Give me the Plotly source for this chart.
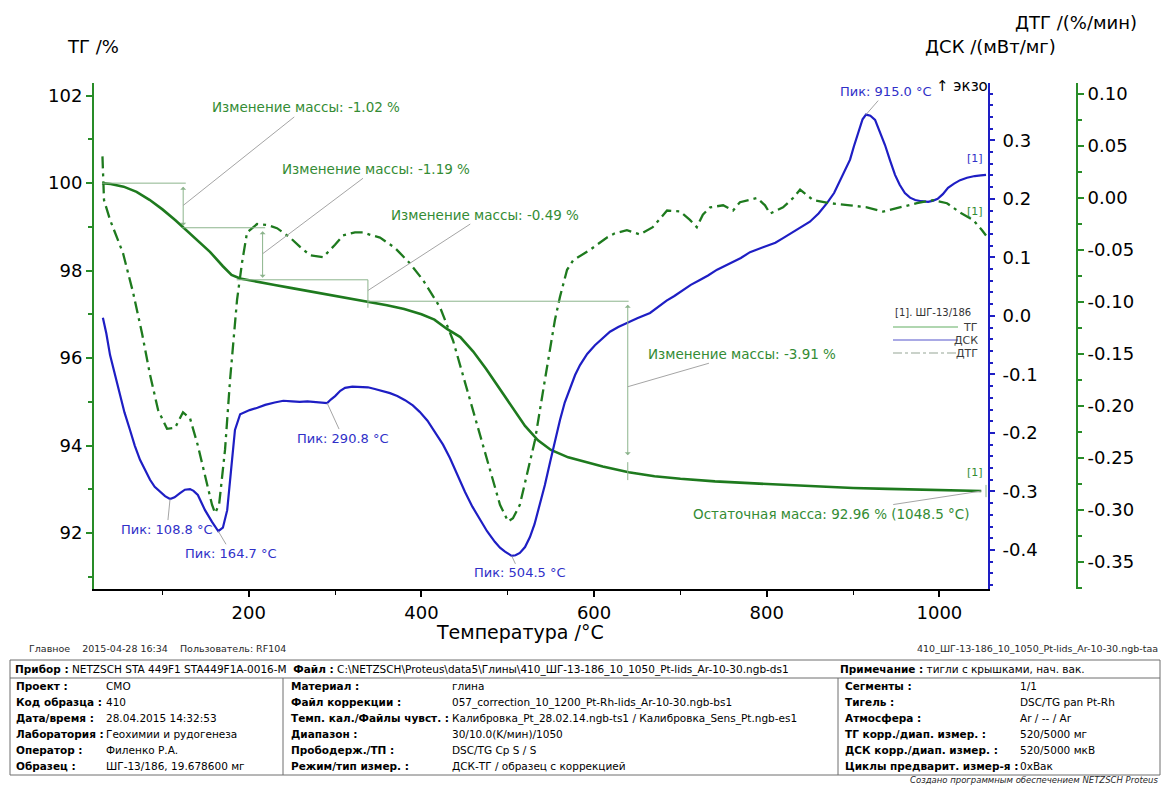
import plotly.graph_objects as go

# ---------------- measured curves ----------------
# TG: mass, %
tg_t = [30, 40, 55, 70, 85, 100, 115, 125, 140, 155, 170, 180, 190, 210, 230, 250,
        270, 290, 310, 337, 360, 380, 400, 415, 430, 445, 460, 475, 490, 505, 520, 535,
        550, 570, 590, 610, 640, 670, 700, 740, 780, 820, 860, 900, 940, 980, 1020, 1048.5]
tg_v = [100.00, 99.98, 99.92, 99.80, 99.62, 99.40, 99.15, 98.97, 98.72, 98.43, 98.10, 97.90,
        97.82, 97.74, 97.67, 97.60, 97.53, 97.46, 97.40, 97.30, 97.21, 97.12, 97.00, 96.88,
        96.66, 96.48, 96.15, 95.75, 95.32, 94.87, 94.45, 94.12, 93.90, 93.73, 93.62, 93.52,
        93.39, 93.30, 93.24, 93.18, 93.14, 93.10, 93.06, 93.03, 93.01, 92.99, 92.97, 92.96]

# DSC: mW/mg
dsc_t = [31, 35, 39.3, 45, 50.9, 56, 62.4, 68, 74, 80,
         85.6, 91, 97.2, 103, 108.8, 114, 120.3, 126, 131.9, 136,
         141, 149.3, 157.4, 164.7, 170, 175, 179.5, 184, 190, 201,
         210, 219, 230, 240, 250, 259, 268, 277, 285, 290.8,
         295, 300, 306, 311.5, 320, 329, 338, 346, 355, 363.6,
         372, 381, 390, 398, 407, 415.7, 425, 433, 441, 450.5,
         459, 467.8, 476, 485, 491, 496.8, 504.5, 509, 514, 520,
         525.7, 531, 537.3, 543, 549, 555, 560.5, 566, 572, 578,
         583.7, 592, 601, 610, 618.4, 628, 638, 650, 664.8, 675,
         684, 693, 703, 712, 722, 732, 742.5, 752, 760, 770,
         780.6, 790, 800, 810, 818.9, 828, 838, 850, 860, 870,
         878, 885, 891, 896.5, 901, 906, 911, 915, 920, 925.5,
         931, 937, 943, 948.6, 954, 960, 966, 972, 979, 987,
         993, 998, 1004, 1010, 1017, 1024, 1032, 1041, 1048, 1054]
dsc_v = [-0.003, -0.030, -0.067, -0.100, -0.135, -0.165, -0.195, -0.222, -0.246, -0.265,
         -0.280, -0.292, -0.301, -0.308, -0.313, -0.310, -0.303, -0.297, -0.296, -0.299,
         -0.306, -0.332, -0.352, -0.368, -0.362, -0.332, -0.263, -0.195, -0.168, -0.161,
         -0.157, -0.152, -0.148, -0.145, -0.146, -0.147, -0.146, -0.147, -0.148, -0.149,
         -0.143, -0.137, -0.128, -0.123, -0.121, -0.121, -0.122, -0.125, -0.128, -0.132,
         -0.137, -0.144, -0.153, -0.164, -0.179, -0.198, -0.220, -0.243, -0.270, -0.301,
         -0.326, -0.349, -0.368, -0.386, -0.396, -0.403, -0.410, -0.409, -0.405, -0.395,
         -0.378, -0.356, -0.323, -0.289, -0.250, -0.212, -0.178, -0.148, -0.123, -0.101,
         -0.084, -0.065, -0.050, -0.038, -0.027, -0.019, -0.012, -0.004, 0.005, 0.017,
         0.026, 0.034, 0.044, 0.053, 0.061, 0.069, 0.079, 0.086, 0.091, 0.099,
         0.109, 0.114, 0.119, 0.125, 0.133, 0.141, 0.150, 0.161, 0.175, 0.193,
         0.210, 0.232, 0.250, 0.267, 0.290, 0.315, 0.336, 0.344, 0.342, 0.335,
         0.315, 0.292, 0.265, 0.241, 0.224, 0.210, 0.202, 0.198, 0.196, 0.195,
         0.197, 0.200, 0.208, 0.219, 0.226, 0.232, 0.236, 0.239, 0.240, 0.241]

# DTG: %/min
dtg_t = [30.5, 31.0, 32.3, 39.3, 47.4, 54.3, 66.0, 76.3, 85.6, 95.0,
         105.3, 114.6, 123.8, 132.0, 141.0, 150.5, 157.4, 161.0, 165.6, 172.5,
         178.3, 186.4, 192.2, 198.0, 209.6, 222.0, 232.7, 247.8, 259.4, 271.0,
         286.0, 299.9, 309.2, 323.0, 332.3, 342.8, 352.0, 369.4, 386.8, 401.9,
         421.5, 436.6, 456.3, 479.4, 491.0, 500.3, 506.0, 514.0, 523.4, 531.5,
         543.0, 554.7, 560.5, 568.7, 575.6, 595.0, 615.0, 624.0, 638.0, 653.0,
         668.0, 684.5, 699.5, 711.0, 719.0, 726.0, 734.4, 749.5, 761.0, 769.0,
         788.8, 798.0, 803.8, 818.9, 830.5, 838.6, 853.7, 873.4, 896.5, 916.0,
         934.8, 954.4, 974.0, 992.6, 1008.8, 1024.0, 1039.0, 1049.4, 1054.0]
dtg_v = [0.040, 0.020, -0.002, -0.021, -0.038, -0.053, -0.091, -0.130, -0.170, -0.204,
         -0.222, -0.221, -0.206, -0.212, -0.238, -0.271, -0.295, -0.303, -0.295, -0.242,
         -0.175, -0.098, -0.062, -0.033, -0.025, -0.026, -0.029, -0.038, -0.047, -0.055,
         -0.057, -0.045, -0.036, -0.033, -0.033, -0.036, -0.038, -0.048, -0.063, -0.079,
         -0.105, -0.137, -0.194, -0.262, -0.295, -0.311, -0.308, -0.295, -0.262, -0.233,
         -0.175, -0.117, -0.095, -0.069, -0.060, -0.050, -0.038, -0.034, -0.031, -0.035,
         -0.028, -0.012, -0.013, -0.021, -0.028, -0.016, -0.009, -0.007, -0.012, -0.004,
         0.000, -0.007, -0.015, -0.009, 0.000, 0.008, -0.002, -0.005, -0.007, -0.009,
         -0.013, -0.009, -0.005, -0.002, -0.005, -0.014, -0.021, -0.031, -0.036]

# DSC peak evaluation
peak_t = [108.8, 164.7, 290.8, 504.5, 915.0]
peak_v = [-0.313, -0.368, -0.149, -0.410, 0.344]

# TG step evaluation: start mass, step temperatures and mass changes
mass_start = 100.0
step_t = [124, 216, 338, 639]
step_dm = [1.02, 1.19, 0.49, 3.91]
residual_t = 1048.5
residual_mass = 92.96

# axis ticks
x_ticks = [200, 400, 600, 800, 1000]
tg_ticks = [92, 94, 96, 98, 100, 102]
dsc_ticks = [-0.4, -0.3, -0.2, -0.1, 0.0, 0.1, 0.2, 0.3]
dtg_ticks = [-0.35, -0.30, -0.25, -0.20, -0.15, -0.10, -0.05, 0.00, 0.05, 0.10]

# measurement sheet
header_left = r"<b>Прибор :</b> NETZSCH STA 449F1 STA449F1A-0016-M  <b>Файл :</b> C:\NETZSCH\Proteus\data5\Глины\410_ШГ-13-186_10_1050_Pt-lids_Ar-10-30.ngb-ds1"
header_right = "<b>Примечание :</b> тигли с крышками, нач. вак."
col1 = [("Проект :", "СМО"), ("Код образца :", "410"), ("Дата/время :", "28.04.2015 14:32:53"),
        ("Лаборатория :", "Геохимии и рудогенеза"), ("Оператор :", "Филенко Р.А."),
        ("Образец :", "ШГ-13/186, 19.678600 мг")]
col2 = [("Материал :", "глина"), ("Файл коррекции :", "057_correction_10_1200_Pt-Rh-lids_Ar-10-30.ngb-bs1"),
        ("Темп. кал./Файлы чувст. :", "Калибровка_Pt_28.02.14.ngb-ts1 / Калибровка_Sens_Pt.ngb-es1"),
        ("Диапазон :", "30/10.0(K/мин)/1050"), ("Прободерж./ТП :", "DSC/TG Cp S / S"),
        ("Режим/тип измер. :", "ДСК-ТГ / образец с коррекцией")]
col3 = [("Сегменты :", "1/1"), ("Тигель :", "DSC/TG pan Pt-Rh"), ("Атмосфера :", "Ar / -- / Ar"),
        ("ТГ корр./диап. измер. :", "520/5000 мг"), ("ДСК корр./диап. измер. :", "520/5000 мкВ"),
        ("Циклы предварит. измер-я :", "0xВак")]

# ---------------- styling ----------------
FONT = "DejaVu Sans"
GREEN = "rgb(30,122,30)"
AXGREEN = "rgb(40,140,40)"
BLUE = "rgb(30,30,196)"
NOTE_GREEN = "rgb(52,140,52)"
NOTE_BLUE = "rgb(48,48,200)"
LEAD = "rgb(165,165,165)"
STEP = "rgb(140,180,140)"
GRID = "rgb(110,110,110)"

W, H = 1165, 785
ML, MR, MT, MB = 94, 65, 83, 196
PW, PH = W - ML - MR, H - MT - MB


def fx(x):
    return (x - ML) / PW


def fy(y):
    return (H - MB - y) / PH


X_END = fx(988)
DTG_POS = fx(1077)

fig = go.Figure()
fig.add_trace(go.Scatter(x=dtg_t, y=dtg_v, yaxis="y3", mode="lines", hoverinfo="skip",
                         line=dict(color=GREEN, width=2.3, dash="12px,5px,3px,5px")))
fig.add_trace(go.Scatter(x=dsc_t, y=dsc_v, yaxis="y2", mode="lines", hoverinfo="skip",
                         line=dict(color=BLUE, width=2.2)))
fig.add_trace(go.Scatter(x=tg_t, y=tg_v, yaxis="y", mode="lines", hoverinfo="skip",
                         line=dict(color=GREEN, width=2.6)))

ann = []
shapes = []


def text_at(x, y, text, size, color="black", xanchor="center", italic=False):
    ann.append(dict(x=fx(x), y=fy(y), xref="paper", yref="paper", text=text, showarrow=False,
                    xanchor=xanchor, yanchor="middle",
                    font=dict(size=size, color=color, family=FONT,
                              style="italic" if italic else "normal")))


# axis titles
text_at(93, 47, "ТГ /%", 18)
text_at(1076, 22, "ДТГ /(%/мин)", 18)
text_at(990, 47, "ДСК /(мВт/мг)", 18)
text_at(962, 86, "↑ экзо", 15)
text_at(520, 632, "Температура /°C", 19)

# DSC peak labels
peak_offsets = [(-3, 30), (13, 22), (16, 35), (8, 17), (20, -23)]
for t, v, (dx, dy) in zip(peak_t, peak_v, peak_offsets):
    ann.append(dict(x=t, y=v, xref="x", yref="y2", text=f"Пик: {t:.1f} °C", showarrow=True,
                    arrowhead=0, arrowwidth=1, arrowcolor=LEAD, ax=dx, ay=dy, standoff=0,
                    font=dict(size=13, color=NOTE_BLUE, family=FONT)))

# TG step evaluation: levels, arrows, labels
levels = [mass_start]
for d in step_dm:
    levels.append(round(levels[-1] - d, 2))

step_lines = [
    (30, 127, levels[0], levels[0]),
    (step_t[0] - 1, 219, levels[1], levels[1]),
    (186, step_t[2], levels[2], levels[2]),
    (step_t[2], step_t[2], levels[2], levels[2] - 0.64),
    (step_t[2], step_t[3] + 1, levels[3], levels[3]),
    (step_t[3], step_t[3], levels[4] + 0.23, levels[4] - 0.18),
    (1054, 1054, residual_mass + 0.14, residual_mass - 0.14),
]
for x0, x1, y0, y1 in step_lines:
    shapes.append(dict(type="line", xref="x", yref="y", x0=x0, x1=x1, y0=y0, y1=y1,
                       line=dict(color=STEP, width=1)))

for i, (top, bot, side, so) in enumerate([(levels[0], levels[1], "end+start", 2),
                                           (levels[1], levels[2], "end+start", 2),
                                           (levels[3], levels[4], "end+start", 17)]):
    t = step_t[[0, 1, 3][i]]
    ann.append(dict(x=t, y=bot, ax=t, ay=top, xref="x", yref="y", axref="x", ayref="y",
                    text="", showarrow=True, arrowhead=1, arrowside=side, arrowsize=1,
                    arrowwidth=1, arrowcolor=STEP, standoff=so, startstandoff=2))

mass_offsets = [(123, -98), (113, -85), (117, -76), (114, -33)]
for i, (t, d, (dx, dy)) in enumerate(zip(step_t, step_dm, mass_offsets)):
    mid = (levels[i] + levels[i + 1]) / 2
    ann.append(dict(x=t, y=mid, xref="x", yref="y", text=f"Изменение массы: -{d:.2f} %",
                    showarrow=True, arrowhead=0, arrowwidth=1, arrowcolor=LEAD, ax=dx, ay=dy,
                    standoff=0, font=dict(size=13.5, color=NOTE_GREEN, family=FONT)))

ann.append(dict(x=residual_t, y=residual_mass, xref="x", yref="y",
                text=f"Остаточная масса: {residual_mass:.2f} % ({residual_t:.1f} °C)",
                showarrow=True, arrowhead=0, arrowwidth=1, arrowcolor=LEAD, ax=-150, ay=23,
                standoff=0, font=dict(size=13.5, color=NOTE_GREEN, family=FONT)))

# curve end markers
text_at(975, 158, "[1]", 11, NOTE_BLUE)
text_at(975, 212, "[1]", 11, NOTE_GREEN)
text_at(975, 472, "[1]", 11, NOTE_GREEN)

# legend block
text_at(893, 312, "[1]. ШГ-13/186", 10, "rgb(50,50,50)", xanchor="left")
for yy, col, dash, name in [(327, "rgb(150,200,150)", "solid", "ТГ"),
                            (340, "rgb(140,140,220)", "solid", "ДСК"),
                            (353, "rgb(185,195,185)", "dashdot", "ДТГ")]:
    shapes.append(dict(type="line", xref="paper", yref="paper", x0=fx(893), x1=fx(958),
                       y0=fy(yy), y1=fy(yy), line=dict(color=col, width=1.5, dash=dash)))
    text_at(980, yy, name, 11, "rgb(60,60,60)", xanchor="right")

# measurement sheet below the chart
text_at(27, 648, "Главное    2015-04-28 16:34    Пользователь: RF104", 9.5, "rgb(40,40,40)", xanchor="left")
text_at(1160, 648, "410_ШГ-13-186_10_1050_Pt-lids_Ar-10-30.ngb-taa", 9.5, "rgb(40,40,40)", xanchor="right")

TABLE_TOP, TABLE_BOTTOM = 660, 775
shapes.append(dict(type="rect", xref="paper", yref="paper", x0=fx(10), x1=fx(1160),
                   y0=fy(TABLE_BOTTOM), y1=fy(TABLE_TOP), line=dict(color=GRID, width=1)))
shapes.append(dict(type="line", xref="paper", yref="paper", x0=fx(10), x1=fx(1160),
                   y0=fy(678), y1=fy(678), line=dict(color=GRID, width=1)))
for xx in (283, 838):
    shapes.append(dict(type="line", xref="paper", yref="paper", x0=fx(xx), x1=fx(xx),
                       y0=fy(678), y1=fy(TABLE_BOTTOM), line=dict(color=GRID, width=1)))

text_at(13, 669, header_left, 10.5, xanchor="left")
text_at(838, 669, header_right, 10.5, xanchor="left")
row_y = [686, 702, 718, 734, 750, 766]
for col, xl, xv in [(col1, 14, 104), (col2, 289, 450), (col3, 843, 1018)]:
    for (lab, val), yy in zip(col, row_y):
        text_at(xl, yy, f"<b>{lab}</b>", 10.5, xanchor="left")
        text_at(xv, yy, val, 10.5, xanchor="left")
text_at(1160, 779.5, "Создано программным обеспечением NETZSCH Proteus", 8.5, "rgb(40,40,40)",
        xanchor="right", italic=True)

tickfont = dict(size=18, color="black", family=FONT)
fig.update_layout(
    width=W, height=H, margin=dict(l=ML, r=MR, t=MT, b=MB),
    paper_bgcolor="white", plot_bgcolor="white",
    font=dict(family=FONT, size=18, color="black"),
    showlegend=False,
    xaxis=dict(domain=[0, X_END], range=[20.7, 1056.3], showline=True, linecolor="black",
               linewidth=2, ticks="outside", ticklen=6, tickwidth=1.5, tickcolor="black",
               tickvals=x_ticks, ticktext=[str(v) for v in x_ticks], tickfont=tickfont,
               minor=dict(tickmode="linear", tick0=0, dtick=100, ticks="outside", ticklen=4,
                          tickcolor="black", tickwidth=1.2),
               showgrid=False, zeroline=False),
    yaxis=dict(range=[90.72, 102.29], showline=True, linecolor=AXGREEN, linewidth=2,
               ticks="outside", ticklen=6, tickwidth=1.5, tickcolor=AXGREEN,
               tickvals=tg_ticks, ticktext=[str(v) for v in tg_ticks], tickfont=tickfont,
               minor=dict(tickmode="linear", tick0=0, dtick=1, ticks="outside", ticklen=4,
                          tickcolor=AXGREEN),
               showgrid=False, zeroline=False),
    yaxis2=dict(overlaying="y", side="right", anchor="x", range=[-0.4667, 0.398],
                showline=True, linecolor=BLUE, linewidth=2, ticks="outside", ticklen=5,
                tickwidth=1.5, tickcolor=BLUE, tickvals=dsc_ticks,
                ticktext=[f"{v:.1f}" for v in dsc_ticks], tickfont=tickfont,
                ticklabelstandoff=4,
                minor=dict(tickmode="linear", tick0=0, dtick=0.02, ticks="outside", ticklen=3,
                           tickcolor=BLUE),
                showgrid=False, zeroline=False),
    yaxis3=dict(overlaying="y", side="right", anchor="free", position=DTG_POS,
                range=[-0.376, 0.1106], showline=True, linecolor=AXGREEN, linewidth=2,
                ticks="outside", ticklen=6, tickwidth=1.5, tickcolor=AXGREEN,
                tickvals=dtg_ticks, ticktext=[f"{v:.2f}" for v in dtg_ticks], tickfont=tickfont,
                minor=dict(tickmode="linear", tick0=0, dtick=0.025, ticks="outside", ticklen=4,
                           tickcolor=AXGREEN),
                showgrid=False, zeroline=False),
    annotations=ann,
    shapes=shapes,
)

fig.write_html("out.html")
